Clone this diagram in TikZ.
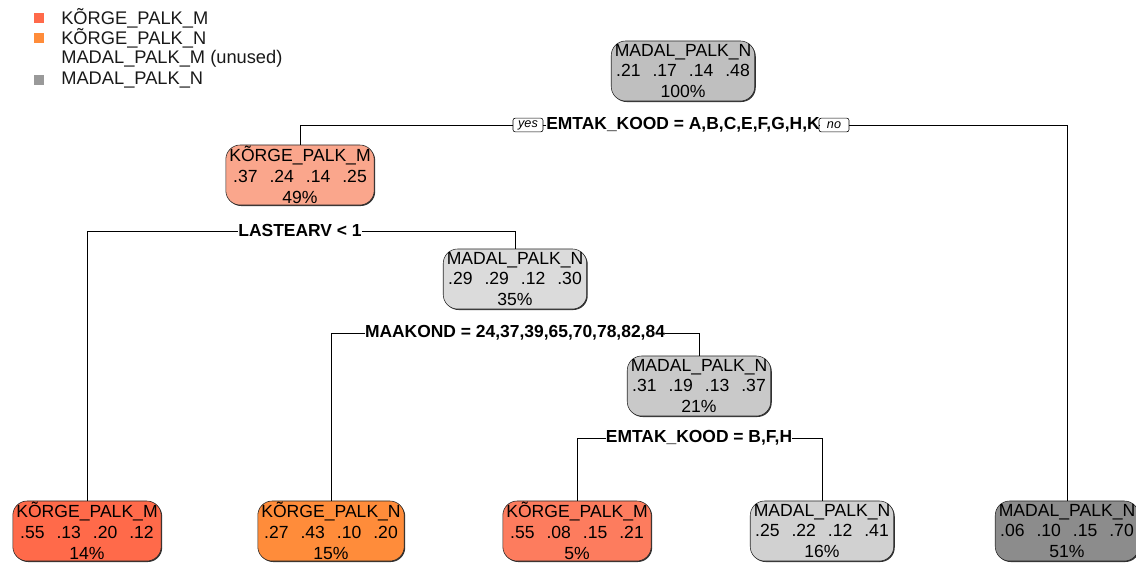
\documentclass[tikz,border=0pt]{standalone}
\usepackage{fontspec}
\setmainfont{Liberation Sans}
\usepackage{tikz}
\usetikzlibrary{shadows}

\definecolor{korgem}{HTML}{FF6A4A}
\definecolor{korgen}{HTML}{FF8C3A}
\definecolor{madaln}{HTML}{999999}
\newcommand{\gap}{\hspace{0.68em}}

\begin{document}
\begin{tikzpicture}[x=0.025cm, y=-0.025cm,
    box/.style={draw=black!85, rounded corners=0.36cm, align=center, inner xsep=2.5pt, inner ysep=0pt,
        minimum height=1.5cm, font=\fontsize{12.5}{14.8}\selectfont, text=black,
        drop shadow={shadow xshift=0.025cm, shadow yshift=-0.025cm, fill=black!80, opacity=1}},
    split/.style={inner sep=0pt, font=\fontsize{12.4}{14}\selectfont\bfseries},
    yesno/.style={draw, fill=white, rounded corners=1.5pt, inner xsep=2pt, inner ysep=0pt,
        minimum width=0.75cm, minimum height=0.34cm, font=\fontsize{9}{10}\selectfont\itshape},
    key/.style={minimum width=0.26cm, minimum height=0.24cm, inner sep=0pt},
    keytext/.style={anchor=west, inner sep=0pt, font=\fontsize{13}{15}\selectfont, text=black!90}]
        \useasboundingbox (0,0) rectangle (1136,563);

        % Legend
        \node[key, fill=korgem] (k1) at (39,18) {};
        \node[key, fill=korgen] (k2) at (39,38) {};
        \node[key, fill=madaln] (k4) at (39,80) {};
        \node[keytext] (t1) at (61,18) {KÕRGE\_PALK\_M};
        \node[keytext] (t2) at (61,38) {KÕRGE\_PALK\_N};
        \node[keytext] (t3) at (61,59) {MADAL\_PALK\_M (unused)};
        \node[keytext] (t4) at (61,80) {MADAL\_PALK\_N};

        % Nodes
        \node[box, fill=black!25] (1) at (683,71) {MADAL\_PALK\_N\\.21\gap.17\gap.14\gap.48\\100\%};
        \node[box, fill={rgb,255:red,250;green,166;blue,140}] (2) at (300,175) {KÕRGE\_PALK\_M\\.37\gap.24\gap.14\gap.25\\49\%};
        \node[box, fill=black!14] (5) at (515,279) {MADAL\_PALK\_N\\.29\gap.29\gap.12\gap.30\\35\%};
        \node[box, fill=black!21] (11) at (699,386) {MADAL\_PALK\_N\\.31\gap.19\gap.13\gap.37\\21\%};
        \node[box, fill=korgem] (4) at (87,531) {KÕRGE\_PALK\_M\\.55\gap.13\gap.20\gap.12\\14\%};
        \node[box, fill=korgen] (10) at (331,531) {KÕRGE\_PALK\_N\\.27\gap.43\gap.10\gap.20\\15\%};
        \node[box, fill={rgb,255:red,253;green,124;blue,94}] (22) at (577,531) {KÕRGE\_PALK\_M\\.55\gap.08\gap.15\gap.21\\5\%};
        \node[box, fill=black!18] (23) at (822,531) {MADAL\_PALK\_N\\.25\gap.22\gap.12\gap.41\\16\%};
        \node[box, fill=black!45] (3) at (1067,531) {MADAL\_PALK\_N\\.06\gap.10\gap.15\gap.70\\51\%};

        % Split labels
        \node[split] (s1) at (683,125) {EMTAK\_KOOD = A,B,C,E,F,G,H,K};
        \node[split] (s2) at (300,231) {LASTEARV < 1};
        \node[split] (s5) at (515,333) {MAAKOND = 24,37,39,65,70,78,82,84};
        \node[split] (s11) at (699,438) {EMTAK\_KOOD = B,F,H};
        \node[yesno] (yes) at (528,125) {yes};
        \node[yesno] (no) at (834,125) {no};

        % Edges
        \draw (2.north) |- (yes.west);
        \draw (yes.east) -- (s1.west);
        \draw (s1.east) -- (no.west);
        \draw (no.east) -| (3.north);
        \draw (4.north) |- (s2.west);
        \draw (s2.east) -| (5.north);
        \draw (10.north) |- (s5.west);
        \draw (s5.east) -| (11.north);
        \draw (22.north) |- (s11.west);
        \draw (s11.east) -| (23.north);
    \end{tikzpicture}
\end{document}
